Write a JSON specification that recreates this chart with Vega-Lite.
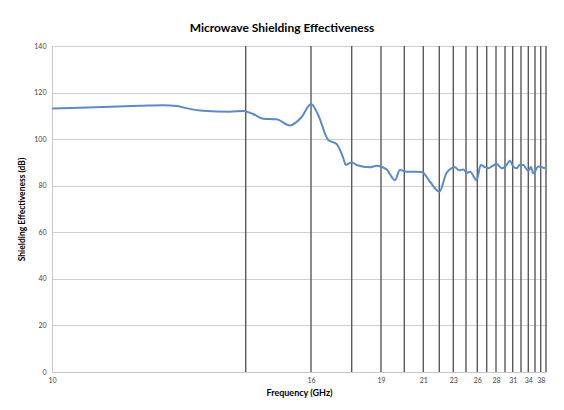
{
  "$schema": "https://vega.github.io/schema/vega-lite/v6.json",
  "width": 494,
  "height": 326,
  "autosize": {"type": "none"},
  "padding": {"left": 52, "top": 46, "right": 18, "bottom": 38},
  "background": "white",
  "config": {"font": "Lato", "view": {"stroke": null}},
  "title": {"text": "Microwave Shielding Effectiveness", "fontSize": 12, "fontWeight": "bold", "font": "Lato", "color": "#000000", "offset": 7, "dx": -17},
  "datasets": {
    "se": [
      {"freq": 10.0, "se": 113.2}, {"freq": 10.65, "se": 113.5}, {"freq": 11.35, "se": 113.9},
      {"freq": 12.04, "se": 114.3}, {"freq": 12.58, "se": 114.6}, {"freq": 12.9, "se": 114.2},
      {"freq": 13.2, "se": 113.0}, {"freq": 13.51, "se": 112.2}, {"freq": 14.13, "se": 111.8},
      {"freq": 14.44, "se": 112.1}, {"freq": 14.67, "se": 110.8}, {"freq": 14.9, "se": 108.8},
      {"freq": 15.21, "se": 108.5}, {"freq": 15.52, "se": 105.9}, {"freq": 15.78, "se": 109.4},
      {"freq": 16.0, "se": 115.1}, {"freq": 16.3, "se": 110.4}, {"freq": 16.72, "se": 99.6},
      {"freq": 17.07, "se": 97.9}, {"freq": 17.35, "se": 91.8}, {"freq": 17.45, "se": 88.9},
      {"freq": 17.7, "se": 90.0}, {"freq": 17.92, "se": 88.9}, {"freq": 18.51, "se": 87.9},
      {"freq": 18.81, "se": 88.6}, {"freq": 19.24, "se": 87.0}, {"freq": 19.6, "se": 82.4},
      {"freq": 19.81, "se": 86.7}, {"freq": 20.13, "se": 86.0}, {"freq": 20.92, "se": 85.9},
      {"freq": 21.42, "se": 81.7}, {"freq": 22.0, "se": 77.4}, {"freq": 22.53, "se": 85.6},
      {"freq": 23.2, "se": 87.9}, {"freq": 23.7, "se": 86.6}, {"freq": 24.18, "se": 87.0},
      {"freq": 24.6, "se": 85.6}, {"freq": 25.03, "se": 86.0},
      {"freq": 25.92, "se": 82.4}, {"freq": 26.36, "se": 88.9}, {"freq": 26.8, "se": 88.0},
      {"freq": 27.17, "se": 87.5}, {"freq": 27.6, "se": 88.4},
      {"freq": 28.12, "se": 89.3}, {"freq": 28.95, "se": 87.5}, {"freq": 29.7, "se": 88.6},
      {"freq": 30.48, "se": 90.7}, {"freq": 31.1, "se": 88.2},
      {"freq": 31.72, "se": 87.5}, {"freq": 32.3, "se": 89.0}, {"freq": 32.97, "se": 88.9},
      {"freq": 34.0, "se": 86.4}, {"freq": 34.8, "se": 88.0},
      {"freq": 35.49, "se": 85.3}, {"freq": 37.16, "se": 88.2}, {"freq": 39.62, "se": 87.5}
    ],
    "grid": [
      {"f": 14.5}, {"f": 16}, {"f": 17.7}, {"f": 19}, {"f": 20}, {"f": 21}, {"f": 22},
      {"f": 23}, {"f": 24.5}, {"f": 26}, {"f": 27}, {"f": 28}, {"f": 29.5}, {"f": 31},
      {"f": 32.5}, {"f": 34}, {"f": 36}, {"f": 38}, {"f": 40}
    ]
  },
  "layer": [
    {
      "data": {"name": "grid"},
      "mark": {"type": "rule", "color": "#5a5a5a", "strokeWidth": 1.4},
      "encoding": {
        "x": {
          "field": "f",
          "type": "quantitative",
          "scale": {
            "type": "linear",
            "nice": false,
            "zero": false,
            "domain": [10, 14.5, 16, 17.7, 19, 20, 21, 22, 23, 24.5, 26, 27, 28, 29.5, 31, 32.5, 34, 36, 38, 40],
            "range": [0, 193.7, 259, 299.7, 329, 352.3, 371.3, 387.3, 401.3, 414, 425.3, 434.7, 444, 453, 460.7, 469, 476.3, 483, 488.7, 494]
          },
          "axis": {
            "values": [10, 16, 19, 21, 23, 26, 28, 31, 34, 38],
            "grid": false,
            "ticks": false,
            "domainColor": "#c8c8c8",
            "labelFontSize": 7,
            "labelColor": "#444444",
            "labelPadding": 4,
            "labelFlush": false,
            "title": "Frequency (GHz)",
            "titleFontSize": 9,
            "titleFontWeight": "bold",
            "titleColor": "#000000",
            "titlePadding": 5
          }
        }
      }
    },
    {
      "data": {"name": "se"},
      "mark": {"type": "line", "color": "#5b8bc6", "strokeWidth": 2, "interpolate": "monotone"},
      "encoding": {
        "x": {"field": "freq", "type": "quantitative"},
        "y": {
          "field": "se",
          "type": "quantitative",
          "scale": {"domain": [0, 140], "nice": false},
          "axis": {
            "values": [0, 20, 40, 60, 80, 100, 120, 140],
            "grid": true,
            "gridColor": "#cfcfcf",
            "ticks": false,
            "domainColor": "#c8c8c8",
            "labelFontSize": 7,
            "labelColor": "#444444",
            "labelPadding": 6,
            "title": "Shielding Effectiveness (dB)",
            "titleFontSize": 8.5,
            "titleFontWeight": "bold",
            "titleColor": "#000000",
            "titlePadding": 7
          }
        }
      }
    }
  ]
}
